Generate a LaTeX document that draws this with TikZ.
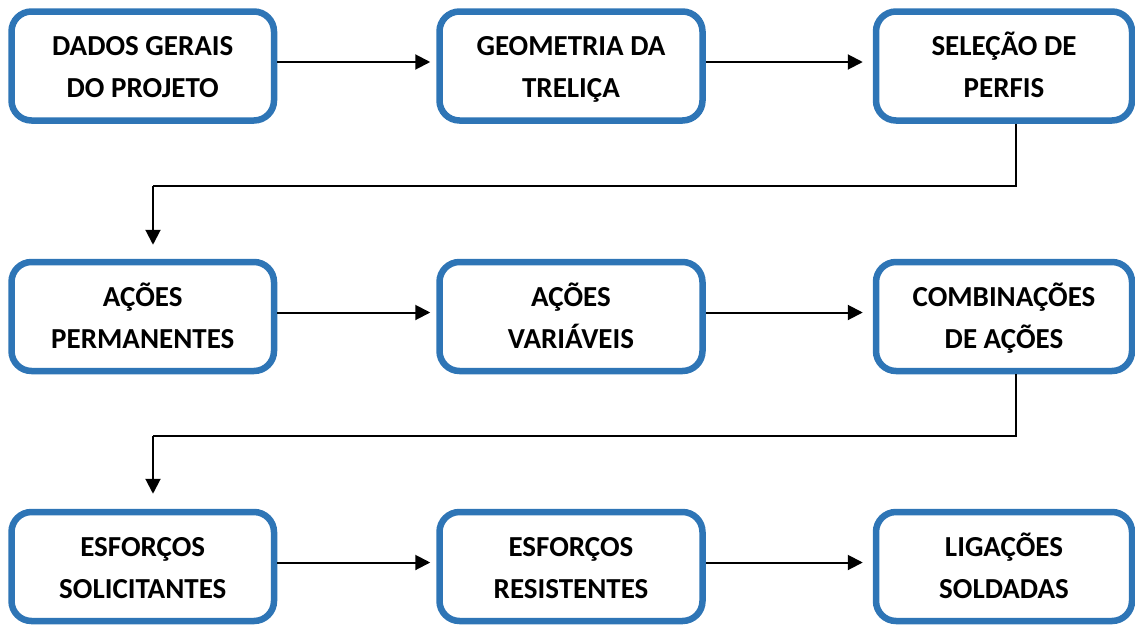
\documentclass[tikz,border=0pt]{standalone}
\usepackage{fontspec}
\setmainfont{Carlito}
\usetikzlibrary{arrows.meta}
\definecolor{boxblue}{RGB}{46,117,182}
\newcommand\twoline[2]{\begin{tabular}{@{}c@{}}\rule{0pt}{34.4pt}#1\\#2\end{tabular}}
\tikzset{
  flowbox/.style={draw=boxblue, line width=6.5pt, rounded corners=20pt, fill=white,
    minimum height=109pt, inner sep=0pt,
    font=\fontsize{29}{42}\selectfont\bfseries},
  conn/.style={line width=2pt, draw=black, -{Triangle[length=15pt,width=15pt]}},
  plainline/.style={line width=2pt, draw=black}
}
\begin{document}
\begin{tikzpicture}[x=1pt,y=-1pt]
\useasboundingbox (0,0) rectangle (1135,624);
% row 1
\node[flowbox, minimum width=262.5pt] (a1) at (142.75,66) {\twoline{DADOS GERAIS}{DO PROJETO}};
\node[flowbox, minimum width=263pt] (a2) at (571,66) {\twoline{GEOMETRIA DA}{TRELIÇA}};
\node[flowbox, minimum width=256pt] (a3) at (1004,66) {\twoline{SELEÇÃO DE}{PERFIS}};
% row 2
\node[flowbox, minimum width=262.5pt] (b1) at (142.75,316.5) {\twoline{AÇÕES}{PERMANENTES}};
\node[flowbox, minimum width=263pt] (b2) at (571,316.5) {\twoline{AÇÕES}{VARIÁVEIS}};
\node[flowbox, minimum width=256pt] (b3) at (1004,316.5) {\twoline{COMBINAÇÕES}{DE AÇÕES}};
% row 3
\node[flowbox, minimum width=262.5pt] (c1) at (142.75,566.5) {\twoline{ESFORÇOS}{SOLICITANTES}};
\node[flowbox, minimum width=263pt] (c2) at (571,566.5) {\twoline{ESFORÇOS}{RESISTENTES}};
\node[flowbox, minimum width=256pt] (c3) at (1004,566.5) {\twoline{LIGAÇÕES}{SOLDADAS}};
% horizontal arrows
\draw[conn, shorten >=6pt] ([yshift=4pt]a1.east) -- ([yshift=4pt]a2.west);
\draw[conn, shorten >=10pt] ([yshift=4pt]a2.east) -- ([yshift=4pt]a3.west);
\draw[conn, shorten >=6pt] ([yshift=4pt]b1.east) -- ([yshift=4pt]b2.west);
\draw[conn, shorten >=10pt] ([yshift=4pt]b2.east) -- ([yshift=4pt]b3.west);
\draw[conn, shorten >=6pt] ([yshift=4pt]c1.east) -- ([yshift=4pt]c2.west);
\draw[conn, shorten >=10pt] ([yshift=4pt]c2.east) -- ([yshift=4pt]c3.west);
% row connectors
\coordinate (k1) at (1016,186);
\coordinate (k2) at (153,186);
\draw[plainline] (a3.south -| k1) -- (k1) -- (k2);
\draw[conn, shorten >=14pt] (k2) -- (k2 |- b1.north);
\coordinate (m1) at (1016,436);
\coordinate (m2) at (153,436);
\draw[plainline] (b3.south -| m1) -- (m1) -- (m2);
\draw[conn, shorten >=15pt] (m2) -- (m2 |- c1.north);
\end{tikzpicture}
\end{document}
